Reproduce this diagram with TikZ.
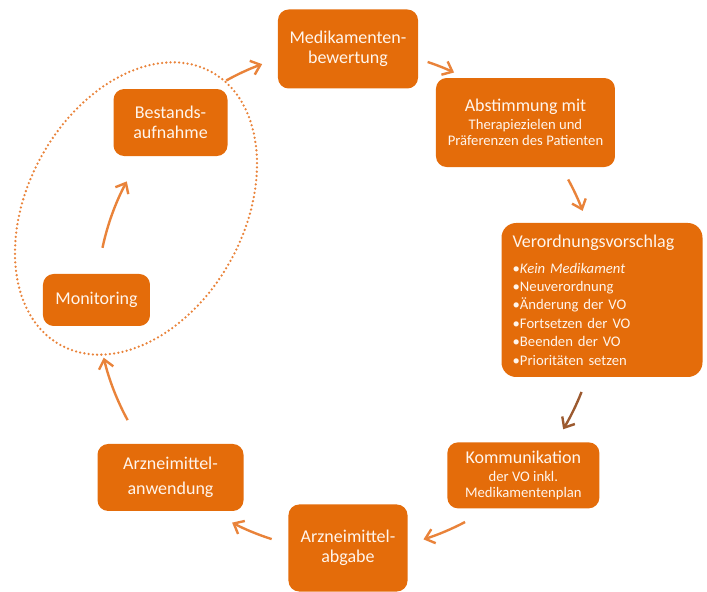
\documentclass[tikz,border=0pt]{standalone}
\usepackage{fontspec}
\setmainfont{Carlito}
\usepackage{xcolor}
\usepackage{tikz}
\usetikzlibrary{arrows.meta}
\definecolor{Box}{HTML}{E46C0A}
\definecolor{Flow}{HTML}{E9833A}
\definecolor{Brown}{HTML}{9C5A30}
\definecolor{Label}{HTML}{FFF5EC}

\begin{document}
\begin{tikzpicture}[x=0.75pt,y=0.75pt,>={Straight Barb[length=6.5pt,width=11pt]}]
  \tikzstyle{box}=[fill=Box,text=Label,rounded corners=8pt,align=center,inner sep=0pt,font=\fontsize{13.5}{15}\selectfont]
  \tikzstyle{arr}=[->,draw=Flow,line width=1.8pt]
  \useasboundingbox (-348,-292) rectangle (359,300);
  \coordinate (hub) at (0,0);
  % the eight stations on one circle
  \node[box,minimum width=105pt,minimum height=59.25pt] (bew) at (90:251) {Medikamenten-\\bewertung};
  \node[box,minimum width=134.25pt,minimum height=66.75pt,font=\fontsize{11}{12}\selectfont] (abs) at (45:251) {{\fontsize{13.5}{15}\selectfont Abstimmung mit}\\[1.5pt]Therapiezielen und\\Präferenzen des Patienten};
  \node[box,rounded corners=11pt,minimum width=150.75pt,minimum height=115.5pt,text width=134pt,align=left,font=\fontsize{11}{13.8}\selectfont] (vor) at (0:254) {{\fontsize{13.5}{15}\selectfont Verordnungsvorschlag}\\[5.7pt]•\textit{Kein Medikament}\\•Neuverordnung\\•Änderung der VO\\•Fortsetzen der VO\\•Beenden der VO\\•Prioritäten setzen};
  \node[box,minimum width=114pt,minimum height=49.5pt,font=\fontsize{11}{12}\selectfont] (kom) at (-45:248) {{\fontsize{13.5}{15}\selectfont Kommunikation}\\[1.5pt]der VO inkl.\\Medikamentenplan};
  \node[box,minimum width=89.25pt,minimum height=65.25pt] (abg) at (-90:248) {Arzneimittel-\\abgabe};
  \node[box,minimum width=109.5pt,minimum height=50.25pt] (anw) at (-135:251) {Arzneimittel-\\[3.5pt]anwendung};
  \node[box,minimum width=80.25pt,minimum height=39pt] (mon) at (180:251.5) {Monitoring};
  \node[box,minimum width=85.5pt,minimum height=50.25pt] (bes) at (135:251) {Bestands-\\aufnahme};
  % dotted loop round monitoring and inventory
  \coordinate (loop) at (-212,91.5);
  \draw[Flow,line width=1.9pt,line cap=round,dash pattern=on 0pt off 3.2pt,rotate around={61:(loop)}] (loop) ellipse [x radius=117pt,y radius=81pt];
  % arcs between the stations
  \draw[arr] ([shift={(119:251)}]hub) arc[start angle=119,end angle=110,radius=188.25pt];
  \draw[arr] ([shift={(71.5:251)}]hub) arc[start angle=71.5,end angle=65,radius=188.25pt];
  \draw[arr] ([shift={(28.7:251)}]hub) arc[start angle=28.7,end angle=20.8,radius=188.25pt];
  \draw[arr,draw=Brown] ([shift={(-21.5:251)}]hub) arc[start angle=-21.5,end angle=-31,radius=188.25pt];
  \draw[arr] ([shift={(-62.2:251)}]hub) arc[start angle=-62.2,end angle=-72.5,radius=188.25pt];
  \draw[arr] ([shift={(-107.7:251)}]hub) arc[start angle=-107.7,end angle=-117.5,radius=188.25pt];
  \draw[arr] ([shift={(208.6:251)}]hub) arc[start angle=208.6,end angle=193.3,radius=188.25pt];
  \draw[arr] ([shift={(168:251)}]hub) arc[start angle=168,end angle=151.8,radius=188.25pt];
\end{tikzpicture}
\end{document}
